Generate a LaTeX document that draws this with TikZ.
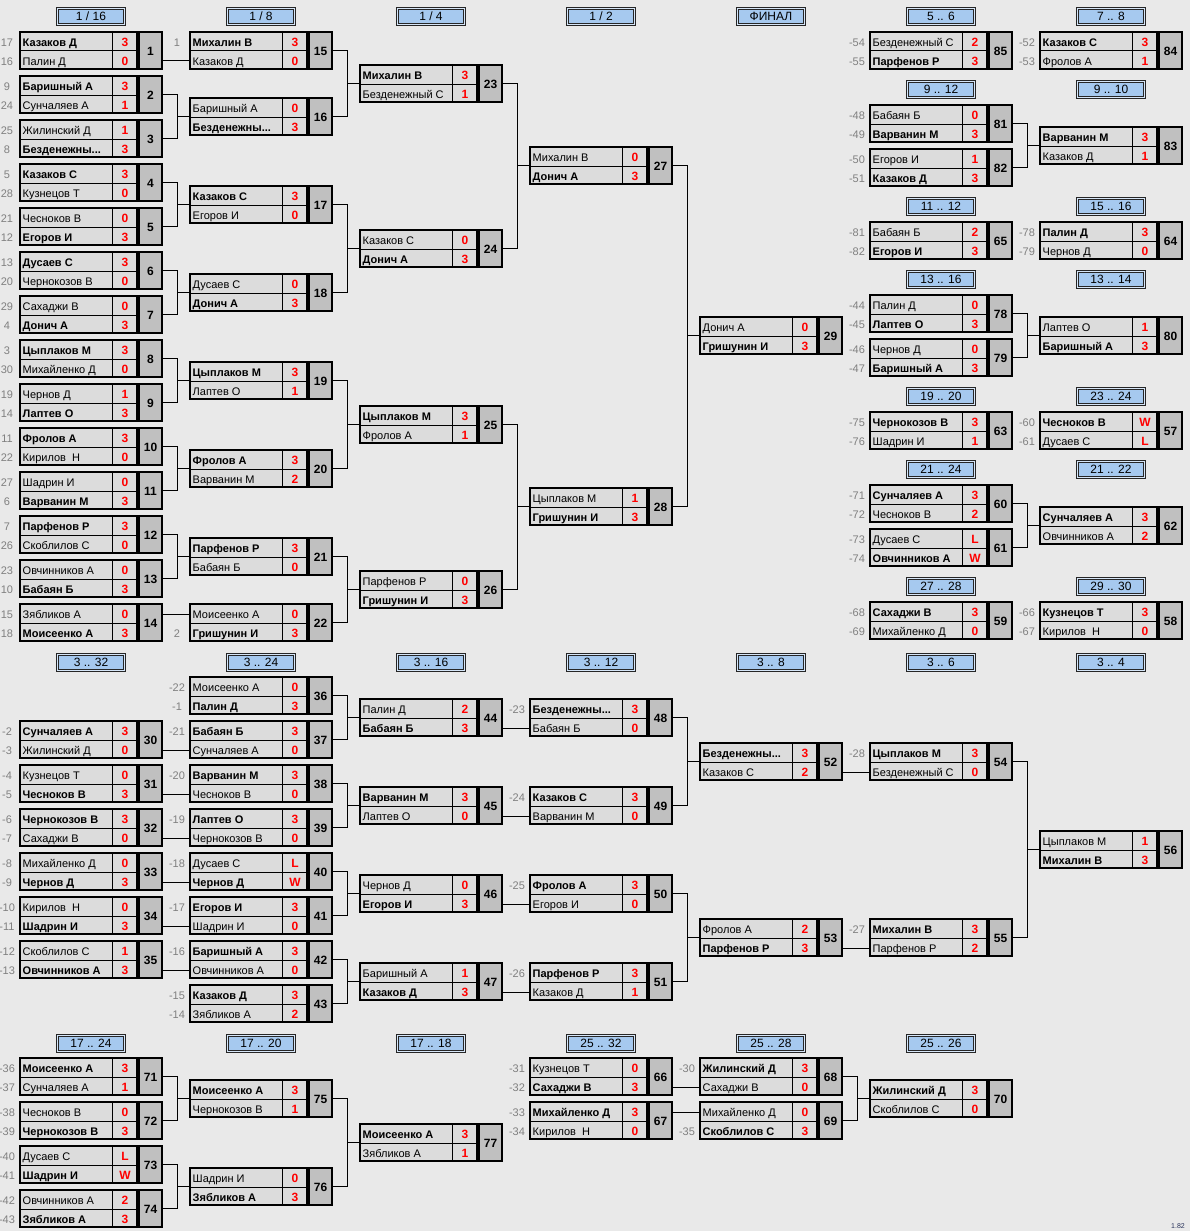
\documentclass[tikz,border=0pt]{standalone}
\usepackage{fontspec}
\setmainfont{Liberation Sans}
\usetikzlibrary{calc}
\definecolor{bg}{RGB}{233,233,233}
\definecolor{cellc}{RGB}{220,220,220}
\definecolor{numc}{RGB}{192,192,192}
\definecolor{hblue}{RGB}{166,201,239}
\definecolor{hlight}{RGB}{214,230,248}
\definecolor{seedc}{RGB}{128,128,128}
\definecolor{scr}{RGB}{255,0,0}
\definecolor{verc}{RGB}{40,50,90}
\tikzset{
 nm/.style={anchor=west, inner sep=0pt, font=\fontsize{11}{13}\selectfont, text height=8.5pt, text depth=2pt},
 sc/.style={inner sep=0pt, font=\fontsize{12}{14}\selectfont\bfseries, text=scr, text height=8.5pt, text depth=2pt},
 num/.style={inner sep=0pt, font=\fontsize{12}{14}\selectfont\bfseries, text height=8.5pt, text depth=2pt},
 seed/.style={inner sep=0pt, text=seedc, font=\fontsize{11}{13}\selectfont, text height=8.5pt, text depth=2pt},
 frame/.style={line width=2pt, draw=black},
 cellgrid/.style={line width=1pt, draw=black},
 conn/.style={line width=1pt, draw=black},
 hdr/.style={draw=black!85, line width=0.8pt, double=hlight, double distance=1pt, fill=hblue, minimum width=67.4pt, minimum height=16.4pt, inner sep=0pt, font=\fontsize{12}{14}\selectfont},
}
% id, L, T, seed1, name1, score1, seed2, name2, score2
\newcommand\Match[9]{%
 \fill[cellc] (#2,#3) rectangle ++(119,39);
 \fill[numc] (#2+119,#3) rectangle ++(25,39);
 \draw[cellgrid] (#2+93,#3) -- (#2+93,#3+39);
 \draw[cellgrid] (#2,#3+20) -- (#2+119,#3+20);
 \draw[frame] (#2+1,#3+1) rectangle (#2+118,#3+38);
 \draw[frame] (#2+120,#3+1) rectangle (#2+143,#3+38);
 \node[nm] (m#1a) at (#2+3.5,#3+12) {#5};
 \node[nm] (m#1b) at (#2+3.5,#3+31) {#8};
 \node[sc] (m#1sa) at (#2+106,#3+12) {#6};
 \node[sc] (m#1sb) at (#2+106,#3+31) {#9};
 \node[num] (m#1) at (#2+131.5,#3+21) {#1};
 \node[seed] (m#1pa) at (#2-12,#3+12) {#4};
 \node[seed] (m#1pb) at (#2-12,#3+31) {#7};
 \coordinate (m#1o) at (#2+144,#3+19.5);
 \coordinate (m#1i) at (#2,#3+19.5);
 \coordinate (m#1ia) at (#2,#3+11);
 \coordinate (m#1ib) at (#2,#3+30);
 \coordinate (m#1j) at (#2+158,#3+19.5);
}
\newcommand\Brk[3]{%
 \draw[conn] (m#1o) -- (m#1j) |- (m#2o);
 \draw[conn] (m#1j |- m#3i) -- (m#3i);
}
\newcommand\Str[3]{\draw[conn] (m#1o |- m#2#3) -- (m#2#3);}
\newcommand\Hdr[4]{\node[hdr] (#1) at (#2+72,#3) {#4};}
\begin{document}
\begin{tikzpicture}[x=1pt,y=-1pt]
\fill[bg] (0,0) rectangle (1190,1231);
\useasboundingbox (0,0) rectangle (1190,1231);
% headers top
\Hdr{h1}{19}{16.5}{1 / 16}
\Hdr{h2}{189}{16.5}{1 / 8}
\Hdr{h3}{359}{16.5}{1 / 4}
\Hdr{h4}{529}{16.5}{1 / 2}
\Hdr{h5}{699}{16.5}{ФИНАЛ}
\Hdr{h6}{869}{16.5}{5 .. 6}
\Hdr{h7}{1039}{16.5}{7 .. 8}
\Hdr{h8}{869}{89.5}{9 .. 12}
\Hdr{h9}{1039}{89.5}{9 .. 10}
\Hdr{h10}{869}{206.5}{11 .. 12}
\Hdr{h11}{1039}{206.5}{15 .. 16}
\Hdr{h12}{869}{279.5}{13 .. 16}
\Hdr{h13}{1039}{279.5}{13 .. 14}
\Hdr{h14}{869}{396.5}{19 .. 20}
\Hdr{h15}{1039}{396.5}{23 .. 24}
\Hdr{h16}{869}{469.5}{21 .. 24}
\Hdr{h17}{1039}{469.5}{21 .. 22}
\Hdr{h18}{869}{586.5}{27 .. 28}
\Hdr{h19}{1039}{586.5}{29 .. 30}
% headers middle
\Hdr{h20}{19}{662.5}{3 .. 32}
\Hdr{h21}{189}{662.5}{3 .. 24}
\Hdr{h22}{359}{662.5}{3 .. 16}
\Hdr{h23}{529}{662.5}{3 .. 12}
\Hdr{h24}{699}{662.5}{3 .. 8}
\Hdr{h25}{869}{662.5}{3 .. 6}
\Hdr{h26}{1039}{662.5}{3 .. 4}
% headers bottom
\Hdr{h27}{19}{1043.5}{17 .. 24}
\Hdr{h28}{189}{1043.5}{17 .. 20}
\Hdr{h29}{359}{1043.5}{17 .. 18}
\Hdr{h30}{529}{1043.5}{25 .. 32}
\Hdr{h31}{699}{1043.5}{25 .. 28}
\Hdr{h32}{869}{1043.5}{25 .. 26}
% top col1
\Match{1}{19}{31}{17}{\bfseries Казаков Д}{3}{16}{Палин Д}{0}
\Match{2}{19}{75}{9}{\bfseries Баришный А}{3}{24}{Сунчаляев А}{1}
\Match{3}{19}{119}{25}{Жилинский Д}{1}{8}{\bfseries Безденежны...}{3}
\Match{4}{19}{163}{5}{\bfseries Казаков С}{3}{28}{Кузнецов Т}{0}
\Match{5}{19}{207}{21}{Чесноков В}{0}{12}{\bfseries Егоров И}{3}
\Match{6}{19}{251}{13}{\bfseries Дусаев С}{3}{20}{Чернокозов В}{0}
\Match{7}{19}{295}{29}{Сахаджи В}{0}{4}{\bfseries Донич А}{3}
\Match{8}{19}{339}{3}{\bfseries Цыплаков М}{3}{30}{Михайленко Д}{0}
\Match{9}{19}{383}{19}{Чернов Д}{1}{14}{\bfseries Лаптев О}{3}
\Match{10}{19}{427}{11}{\bfseries Фролов А}{3}{22}{Кирилов~ Н}{0}
\Match{11}{19}{471}{27}{Шадрин И}{0}{6}{\bfseries Варванин М}{3}
\Match{12}{19}{515}{7}{\bfseries Парфенов Р}{3}{26}{Скоблилов С}{0}
\Match{13}{19}{559}{23}{Овчинников А}{0}{10}{\bfseries Бабаян Б}{3}
\Match{14}{19}{603}{15}{Зябликов А}{0}{18}{\bfseries Моисеенко А}{3}
% col2
\Match{15}{189}{31}{1}{\bfseries Михалин В}{3}{}{Казаков Д}{0}
\Match{16}{189}{97}{}{Баришный А}{0}{}{\bfseries Безденежны...}{3}
\Match{17}{189}{185}{}{\bfseries Казаков С}{3}{}{Егоров И}{0}
\Match{18}{189}{273}{}{Дусаев С}{0}{}{\bfseries Донич А}{3}
\Match{19}{189}{361}{}{\bfseries Цыплаков М}{3}{}{Лаптев О}{1}
\Match{20}{189}{449}{}{\bfseries Фролов А}{3}{}{Варванин М}{2}
\Match{21}{189}{537}{}{\bfseries Парфенов Р}{3}{}{Бабаян Б}{0}
\Match{22}{189}{603}{}{Моисеенко А}{0}{2}{\bfseries Гришунин И}{3}
% col3-5
\Match{23}{359}{64}{}{\bfseries Михалин В}{3}{}{Безденежный С}{1}
\Match{24}{359}{229}{}{Казаков С}{0}{}{\bfseries Донич А}{3}
\Match{25}{359}{405}{}{\bfseries Цыплаков М}{3}{}{Фролов А}{1}
\Match{26}{359}{570}{}{Парфенов Р}{0}{}{\bfseries Гришунин И}{3}
\Match{27}{529}{146}{}{Михалин В}{0}{}{\bfseries Донич А}{3}
\Match{28}{529}{487}{}{Цыплаков М}{1}{}{\bfseries Гришунин И}{3}
\Match{29}{699}{316}{}{Донич А}{0}{}{\bfseries Гришунин И}{3}
% col6 top
\Match{85}{869}{31}{-54}{Безденежный С}{2}{-55}{\bfseries Парфенов Р}{3}
\Match{81}{869}{104}{-48}{Бабаян Б}{0}{-49}{\bfseries Варванин М}{3}
\Match{82}{869}{148}{-50}{Егоров И}{1}{-51}{\bfseries Казаков Д}{3}
\Match{65}{869}{221}{-81}{Бабаян Б}{2}{-82}{\bfseries Егоров И}{3}
\Match{78}{869}{294}{-44}{Палин Д}{0}{-45}{\bfseries Лаптев О}{3}
\Match{79}{869}{338}{-46}{Чернов Д}{0}{-47}{\bfseries Баришный А}{3}
\Match{63}{869}{411}{-75}{\bfseries Чернокозов В}{3}{-76}{Шадрин И}{1}
\Match{60}{869}{484}{-71}{\bfseries Сунчаляев А}{3}{-72}{Чесноков В}{2}
\Match{61}{869}{528}{-73}{Дусаев С}{L}{-74}{\bfseries Овчинников А}{W}
\Match{59}{869}{601}{-68}{\bfseries Сахаджи В}{3}{-69}{Михайленко Д}{0}
% col7 top
\Match{84}{1039}{31}{-52}{\bfseries Казаков С}{3}{-53}{Фролов А}{1}
\Match{83}{1039}{126}{}{\bfseries Варванин М}{3}{}{Казаков Д}{1}
\Match{64}{1039}{221}{-78}{\bfseries Палин Д}{3}{-79}{Чернов Д}{0}
\Match{80}{1039}{316}{}{Лаптев О}{1}{}{\bfseries Баришный А}{3}
\Match{57}{1039}{411}{-60}{\bfseries Чесноков В}{W}{-61}{Дусаев С}{L}
\Match{62}{1039}{506}{}{\bfseries Сунчаляев А}{3}{}{Овчинников А}{2}
\Match{58}{1039}{601}{-66}{\bfseries Кузнецов Т}{3}{-67}{Кирилов~ Н}{0}
% middle
\Match{30}{19}{720}{-2}{\bfseries Сунчаляев А}{3}{-3}{Жилинский Д}{0}
\Match{31}{19}{764}{-4}{Кузнецов Т}{0}{-5}{\bfseries Чесноков В}{3}
\Match{32}{19}{808}{-6}{\bfseries Чернокозов В}{3}{-7}{Сахаджи В}{0}
\Match{33}{19}{852}{-8}{Михайленко Д}{0}{-9}{\bfseries Чернов Д}{3}
\Match{34}{19}{896}{-10}{Кирилов~ Н}{0}{-11}{\bfseries Шадрин И}{3}
\Match{35}{19}{940}{-12}{Скоблилов С}{1}{-13}{\bfseries Овчинников А}{3}
\Match{36}{189}{676}{-22}{Моисеенко А}{0}{-1}{\bfseries Палин Д}{3}
\Match{37}{189}{720}{-21}{\bfseries Бабаян Б}{3}{}{Сунчаляев А}{0}
\Match{38}{189}{764}{-20}{\bfseries Варванин М}{3}{}{Чесноков В}{0}
\Match{39}{189}{808}{-19}{\bfseries Лаптев О}{3}{}{Чернокозов В}{0}
\Match{40}{189}{852}{-18}{Дусаев С}{L}{}{\bfseries Чернов Д}{W}
\Match{41}{189}{896}{-17}{\bfseries Егоров И}{3}{}{Шадрин И}{0}
\Match{42}{189}{940}{-16}{\bfseries Баришный А}{3}{}{Овчинников А}{0}
\Match{43}{189}{984}{-15}{\bfseries Казаков Д}{3}{-14}{Зябликов А}{2}
\Match{44}{359}{698}{}{Палин Д}{2}{}{\bfseries Бабаян Б}{3}
\Match{45}{359}{786}{}{\bfseries Варванин М}{3}{}{Лаптев О}{0}
\Match{46}{359}{874}{}{Чернов Д}{0}{}{\bfseries Егоров И}{3}
\Match{47}{359}{962}{}{Баришный А}{1}{}{\bfseries Казаков Д}{3}
\Match{48}{529}{698}{-23}{\bfseries Безденежны...}{3}{}{Бабаян Б}{0}
\Match{49}{529}{786}{-24}{\bfseries Казаков С}{3}{}{Варванин М}{0}
\Match{50}{529}{874}{-25}{\bfseries Фролов А}{3}{}{Егоров И}{0}
\Match{51}{529}{962}{-26}{\bfseries Парфенов Р}{3}{}{Казаков Д}{1}
\Match{52}{699}{742}{}{\bfseries Безденежны...}{3}{}{Казаков С}{2}
\Match{53}{699}{918}{}{Фролов А}{2}{}{\bfseries Парфенов Р}{3}
\Match{54}{869}{742}{-28}{\bfseries Цыплаков М}{3}{}{Безденежный С}{0}
\Match{55}{869}{918}{-27}{\bfseries Михалин В}{3}{}{Парфенов Р}{2}
\Match{56}{1039}{830}{}{Цыплаков М}{1}{}{\bfseries Михалин В}{3}
% bottom
\Match{71}{19}{1057}{-36}{\bfseries Моисеенко А}{3}{-37}{Сунчаляев А}{1}
\Match{72}{19}{1101}{-38}{Чесноков В}{0}{-39}{\bfseries Чернокозов В}{3}
\Match{73}{19}{1145}{-40}{Дусаев С}{L}{-41}{\bfseries Шадрин И}{W}
\Match{74}{19}{1189}{-42}{Овчинников А}{2}{-43}{\bfseries Зябликов А}{3}
\Match{75}{189}{1079}{}{\bfseries Моисеенко А}{3}{}{Чернокозов В}{1}
\Match{76}{189}{1167}{}{Шадрин И}{0}{}{\bfseries Зябликов А}{3}
\Match{77}{359}{1123}{}{\bfseries Моисеенко А}{3}{}{Зябликов А}{1}
\Match{66}{529}{1057}{-31}{Кузнецов Т}{0}{-32}{\bfseries Сахаджи В}{3}
\Match{67}{529}{1101}{-33}{\bfseries Михайленко Д}{3}{-34}{Кирилов~ Н}{0}
\Match{68}{699}{1057}{-30}{\bfseries Жилинский Д}{3}{}{Сахаджи В}{0}
\Match{69}{699}{1101}{}{Михайленко Д}{0}{-35}{\bfseries Скоблилов С}{3}
\Match{70}{869}{1079}{}{\bfseries Жилинский Д}{3}{}{Скоблилов С}{0}
% connectors top
\Str{1}{15}{ib}
\Brk{2}{3}{16}
\Brk{4}{5}{17}
\Brk{6}{7}{18}
\Brk{8}{9}{19}
\Brk{10}{11}{20}
\Brk{12}{13}{21}
\Str{14}{22}{ia}
\Brk{15}{16}{23}
\Brk{17}{18}{24}
\Brk{19}{20}{25}
\Brk{21}{22}{26}
\Brk{23}{24}{27}
\Brk{25}{26}{28}
\Brk{27}{28}{29}
\Brk{81}{82}{83}
\Brk{78}{79}{80}
\Brk{60}{61}{62}
% connectors middle
\Str{30}{37}{ib}
\Str{31}{38}{ib}
\Str{32}{39}{ib}
\Str{33}{40}{ib}
\Str{34}{41}{ib}
\Str{35}{42}{ib}
\Brk{36}{37}{44}
\Brk{38}{39}{45}
\Brk{40}{41}{46}
\Brk{42}{43}{47}
\Str{44}{48}{ib}
\Str{45}{49}{ib}
\Str{46}{50}{ib}
\Str{47}{51}{ib}
\Brk{48}{49}{52}
\Brk{50}{51}{53}
\Str{52}{54}{ib}
\Str{53}{55}{ib}
\Brk{54}{55}{56}
% connectors bottom
\Brk{71}{72}{75}
\Brk{73}{74}{76}
\Brk{75}{76}{77}
\Str{66}{68}{ib}
\Str{67}{69}{ia}
\Brk{68}{69}{70}
\node[anchor=south east, inner sep=0pt, text=verc, font=\fontsize{7}{8}\selectfont] (ver) at (1185,1229) {1.82};
\end{tikzpicture}
\end{document}
